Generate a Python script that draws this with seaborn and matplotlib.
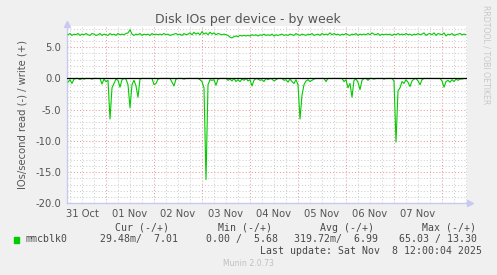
import numpy as np
import pandas as pd
import matplotlib
matplotlib.use("Agg")
import matplotlib.pyplot as plt
import seaborn as sns

# hours since 31 Oct 00:00
hours = list(range(5, 205))

write_iops = [
    7.0, 7.2, 6.9, 7.1, 7.0, 7.2, 6.9, 7.1, 7.0, 7.2,
    7.0, 6.9, 7.2, 7.1, 6.9, 7.0, 7.2, 6.9, 7.1, 7.0,
    6.9, 7.2, 7.0, 7.1, 6.9, 7.2, 7.0, 7.1, 7.0, 7.2,
    7.3, 7.8, 7.1, 6.9, 7.1, 7.0, 7.2, 6.9, 7.1, 7.0,
    7.1, 6.9, 7.2, 7.0, 7.1, 7.0, 7.1, 7.0, 7.2, 7.0,
    7.1, 6.9, 7.0, 7.1, 7.2, 7.0, 7.1, 6.9, 7.2, 7.0,
    7.1, 7.3, 7.0, 7.4, 7.1, 7.3, 7.0, 7.5, 7.1, 7.3,
    7.0, 7.4, 7.1, 7.3, 7.0, 7.2, 7.1, 7.0, 7.1, 7.0,
    6.9, 6.6, 6.5, 6.7, 6.8, 6.7, 6.9, 6.8, 6.9, 6.8,
    6.9, 6.8, 7.0, 6.9, 7.0, 6.8, 7.0, 6.9, 7.1, 6.9,
    7.0, 6.9, 7.1, 6.8, 7.0, 6.9, 7.0, 7.1, 6.9, 7.0,
    6.9, 7.1, 7.0, 6.9, 7.2, 7.0, 6.9, 7.1, 7.0, 6.9,
    7.1, 7.0, 7.2, 6.9, 7.0, 7.1, 6.9, 7.2, 7.0, 7.1,
    7.0, 7.3, 7.0, 7.2, 7.0, 7.1, 6.9, 7.1, 7.0, 7.2,
    7.0, 6.9, 7.1, 7.0, 7.2, 6.9, 7.1, 7.0, 7.1, 7.0,
    7.2, 7.0, 7.3, 7.1, 7.0, 7.2, 6.9, 7.1, 7.0, 7.1,
    7.0, 7.1, 6.9, 7.1, 7.0, 7.2, 7.0, 7.1, 7.0, 7.2,
    7.0, 7.1, 6.9, 7.1, 7.0, 7.2, 7.0, 7.1, 7.3, 6.9,
    7.1, 7.2, 7.0, 7.3, 6.9, 7.2, 7.1, 7.0, 7.3, 6.8,
    7.1, 7.0, 7.2, 6.9, 7.0, 7.1, 7.2, 7.0, 7.1, 7.0,
]

read_iops = [
    0.6, 0.2, 0.8, 0.1, 0.0, 0.0, 0.2, 0.0, 0.1, 0.0,    # 5-14
    0.0, 0.0, 0.1, 0.0, 0.0, 0.0, 0.0, 0.9, 0.1, 0.5,    # 15-24
    0.3, 6.5, 1.5, 0.8, 0.1, 0.3, 1.4, 0.2, 0.0, 0.1,    # 25-34
    1.0, 4.7, 1.0, 0.3, 1.2, 3.0, 0.1, 0.0, 0.0, 0.0,    # 35-44
    0.0, 0.0, 0.0, 1.0, 0.8, 0.1, 0.0, 0.0, 0.0, 0.0,    # 45-54
    0.0, 0.0, 0.6, 1.2, 0.1, 0.0, 0.0, 0.0, 0.1, 0.0,    # 55-64
    0.0, 0.0, 0.0, 0.0, 0.0, 0.0, 0.2, 0.5, 1.5, 16.2,   # 65-74
    1.0, 0.2, 0.3, 0.2, 1.1, 0.1, 0.0, 0.0, 0.0, 0.0,    # 75-84
    0.3, 0.1, 0.4, 0.0, 0.5, 0.2, 0.5, 0.1, 0.3, 0.0,    # 85-94
    0.4, 0.2, 1.2, 0.3, 0.0, 0.1, 0.3, 0.2, 0.5, 0.0,    # 95-104
    0.2, 0.0, 0.1, 0.4, 0.2, 0.0, 0.0, 0.0, 0.3, 0.2,    # 105-114
    0.6, 0.1, 0.5, 0.8, 0.2, 1.0, 6.5, 2.7, 1.0, 0.4,    # 115-124
    0.2, 0.5, 0.3, 0.1, 0.0, 0.0, 0.0, 0.0, 0.0, 0.5,    # 125-134
    0.0, 0.0, 0.0, 0.0, 0.0, 0.0, 0.0, 0.0, 0.5, 0.2,    # 135-144
    1.5, 0.8, 3.0, 0.3, 0.1, 0.6, 1.8, 0.3, 0.0, 0.0,    # 145-154
    0.3, 0.0, 0.0, 0.1, 0.0, 0.0, 0.0, 0.0, 0.1, 0.0,    # 155-164
    0.0, 0.0, 0.0, 0.4, 10.2, 2.0, 1.5, 0.5, 0.8, 0.2,   # 165-174
    0.6, 1.3, 0.4, 0.1, 0.0, 0.4, 1.0, 0.2, 0.0, 0.0,    # 175-184
    0.0, 0.0, 0.0, 0.0, 0.0, 0.0, 0.0, 0.4, 1.4, 0.5,    # 185-194
    0.3, 0.6, 0.2, 0.5, 0.1, 0.3, 0.1, 0.1, 0.0, 0.03,   # 195-204
]

day_labels = ["31 Oct", "01 Nov", "02 Nov", "03 Nov", "04 Nov", "05 Nov", "06 Nov", "07 Nov"]
y_ticks = [-20, -15, -10, -5, 0, 5]
y_tick_labels = ["-20.0", "-15.0", "-10.0", "-5.0", "0.0", "5.0"]

legend_name = "mmcblk0"
cur_text = "29.48m/  7.01"
min_text = "0.00 /  5.68"
avg_text = "319.72m/  6.99"
max_text = "65.03 / 13.30"

df = pd.DataFrame({"hour": hours, "write": write_iops,
                   "read": [-v for v in read_iops]})

sns.set_theme(style="white")
plt.rcParams['font.family'] = ['DejaVu Sans']

W, H = 497, 275
fig = plt.figure(figsize=(W / 100, H / 100), dpi=100)
fig.patch.set_facecolor("#F0F0F0")

L, R, T, B = 67, 467, 25.7, 203.3
ax = fig.add_axes([L / W, 1 - B / H, (R - L) / W, (B - T) / H])
ax.set_facecolor("white")

xmin, xmax = 4.5, 204.5
ymin, ymax = -20, 8.45
ax.set_xlim(xmin, xmax)
ax.set_ylim(ymin, ymax)

# grid
minor_col = "#CFCFCF"
major_col = "#EE9999"
dot = (0, (1, 2))
for h in np.arange(6, 205, 6):
    if h % 24 != 0:
        ax.axvline(h, color=minor_col, lw=0.75, ls=dot, zorder=0)
for h in np.arange(24, 205, 24):
    ax.axvline(h, color=major_col, lw=0.75, ls=dot, zorder=0)
for yv in range(-19, 9):
    if yv % 5 != 0:
        ax.axhline(yv, color=minor_col, lw=0.75, ls=dot, zorder=0)
for yv in y_ticks:
    if yv != 0:
        ax.axhline(yv, color=major_col, lw=0.75, ls=dot, zorder=0)

green = "#00CC00"
sns.lineplot(data=df, x="hour", y="write", ax=ax, color=green, lw=0.8,
             estimator=None, zorder=3)
sns.lineplot(data=df, x="hour", y="read", ax=ax, color=green, lw=0.8,
             estimator=None, zorder=3)
ax.axhline(0, color="black", lw=0.9, zorder=4)

for s in ["top", "right"]:
    ax.spines[s].set_visible(False)
spine_col = "#C8C8F0"
for s in ["left", "bottom"]:
    ax.spines[s].set_color(spine_col)
    ax.spines[s].set_linewidth(1.0)
# arrow heads
ax.plot([xmin], [ymax + 0.35], marker="^", color=spine_col, ms=5,
        clip_on=False, transform=ax.transData)
ax.plot([xmax + 1.5], [ymin], marker=">", color=spine_col, ms=5,
        clip_on=False, transform=ax.transData)

ax.set_xticks([12 + 24 * i for i in range(len(day_labels))])
ax.set_xticklabels(day_labels)
ax.set_yticks(y_ticks)
ax.set_yticklabels(y_tick_labels)
ax.tick_params(axis="both", length=0, labelsize=7.2, colors="#555555", pad=4)
ax.set_xlabel("")
ax.set_ylabel("IOs/second read (-) / write (+)", fontsize=7.2, color="#555555",
              labelpad=6)

fig.text(248 / W, 1 - 19 / H, "Disk IOs per device - by week", ha="center",
         va="center", fontsize=9, color="#555555")
fig.text(486 / W, 1 - 55 / H, "RRDTOOL / TOBI OETIKER", rotation=270,
         ha="center", va="center", fontsize=5.6, color="#C8C8C8")

mono = "DejaVu Sans Mono"
fs = 7.1
tc = "#484848"
def t(x, y, s, ha="left", **kw):
    fig.text(x / W, 1 - y / H, s, ha=ha, va="center", fontsize=fs,
             family=mono, color=tc, **kw)

t(169, 227.7, "Cur (-/+)", ha="right")
t(272, 227.7, "Min (-/+)", ha="right")
t(374, 227.7, "Avg (-/+)", ha="right")
t(476, 227.7, "Max (-/+)", ha="right")
fig.patches.append(plt.Rectangle((14 / W, 1 - 242.7 / H), 5.3 / W, 5.3 / H,
                                 transform=fig.transFigure, color=green))
t(26, 239.3, legend_name)
t(178, 239.3, cur_text, ha="right")
t(278, 239.3, min_text, ha="right")
t(378, 239.3, avg_text, ha="right")
t(477, 239.3, max_text, ha="right")
t(482, 251, "Last update: Sat Nov  8 12:00:04 2025", ha="right")
fig.text(248 / W, 1 - 264 / H, "Munin 2.0.73", ha="center", va="center",
         fontsize=5.6, color="#C0C0C0")

fig.savefig("out.png", dpi=100, facecolor=fig.get_facecolor())
